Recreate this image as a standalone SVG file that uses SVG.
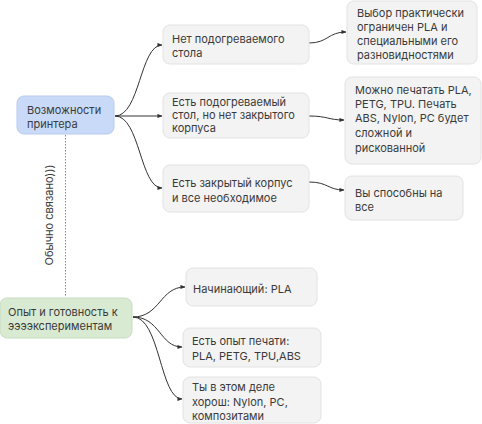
<svg xmlns="http://www.w3.org/2000/svg" width="482" height="424" viewBox="0 0 482 424">
<defs>
<marker id="arr" viewBox="0 0 6 6" refX="5.5" refY="3" markerWidth="5" markerHeight="5" orient="auto" markerUnits="userSpaceOnUse">
<path d="M0,0.5 L6,3 L0,5.5 z" fill="#333"/>
</marker>
<style>
.n{fill:#f3f3f3;stroke:#e2e2e2;stroke-width:1}
.blue{fill:#c9daf8;stroke:#b7cbef}
.green{fill:#d9ead3;stroke:#c8dcc1}
text{font-family:Inter,"Noto Sans","Liberation Sans",sans-serif;font-size:11px;fill:#3a3a3a}
.c{fill:none;stroke:#333;stroke-width:1;marker-end:url(#arr)}
</style>
</defs>
<rect width="482" height="424" fill="#fff"/>
<g id="connectors">
<path class="c" d="M115,116 C140,116 140,45 162,45"/>
<path class="c" d="M115,116 L162,116"/>
<path class="c" d="M115,116 C140,116 140,188 162,188"/>
<path class="c" d="M309,43 C328,43 328,32 346,32"/>
<path class="c" d="M309,116 C328,116 328,120 344,120"/>
<path class="c" d="M309,182 C328,182 328,190 344,190"/>
<path class="c" d="M133,317 C160,317 160,287 185,287"/>
<path class="c" d="M133,317 C160,317 160,347 182,347"/>
<path class="c" d="M133,317 C160,317 160,399 182,399"/>
<path d="M65.5,135 L65.5,297" fill="none" stroke="#888" stroke-width="1" stroke-dasharray="1.5,1.5"/>
<text transform="translate(53,215) rotate(-90)" text-anchor="middle">Обычно связано)))</text>
</g>
<g id="printer">
<rect class="n blue" x="17" y="96" width="97" height="38" rx="7"/>
<text x="27" y="114">Возможности</text>
<text x="27" y="128">принтера</text>
</g>
<g id="noheat">
<rect class="n" x="163" y="25" width="146" height="39" rx="7"/>
<text x="172" y="43">Нет подогреваемого</text>
<text x="172" y="57">стола</text>
</g>
<g id="heat">
<rect class="n" x="163" y="93" width="146" height="45" rx="7"/>
<text x="172" y="106">Есть подогреваемый</text>
<text x="172" y="119">стол, но нет закрытого</text>
<text x="172" y="132">корпуса</text>
</g>
<g id="closed">
<rect class="n" x="163" y="165" width="146" height="47" rx="7"/>
<text x="172" y="187">Есть закрытый корпус</text>
<text x="172" y="202">и все необходимое</text>
</g>
<g id="pla">
<rect class="n" x="347" y="1" width="130" height="63" rx="7"/>
<text x="357" y="17">Выбор практически</text>
<text x="357" y="31">ограничен PLA и</text>
<text x="357" y="45">специальными его</text>
<text x="357" y="59">разновидностями</text>
</g>
<g id="petg">
<rect class="n" x="345" y="77" width="136" height="87" rx="7"/>
<text x="355" y="94">Можно печатать PLA,</text>
<text x="355" y="108">PETG, TPU. Печать</text>
<text x="355" y="122">ABS, Nylon, PC будет</text>
<text x="355" y="137">сложной и</text>
<text x="355" y="152">рискованной</text>
</g>
<g id="all">
<rect class="n" x="345" y="176" width="118" height="44" rx="7"/>
<text x="355" y="197">Вы способны на</text>
<text x="355" y="211">все</text>
</g>
<g id="experience">
<rect class="n green" x="0" y="298" width="132" height="40" rx="7"/>
<text x="8" y="316">Опыт и готовность к</text>
<text x="8" y="330">ээээкспериментам</text>
</g>
<g id="beginner">
<rect class="n" x="186" y="268" width="131" height="38" rx="7"/>
<text x="193" y="293">Начинающий: PLA</text>
</g>
<g id="mid">
<rect class="n" x="183" y="328" width="138" height="39" rx="7"/>
<text x="192" y="345">Есть опыт печати:</text>
<text x="192" y="360">PLA, PETG, TPU,ABS</text>
</g>
<g id="pro">
<rect class="n" x="183" y="377" width="138" height="46" rx="7"/>
<text x="192" y="391">Ты в этом деле</text>
<text x="192" y="406">хорош: Nylon, PC,</text>
<text x="192" y="420">композитами</text>
</g>
</svg>
